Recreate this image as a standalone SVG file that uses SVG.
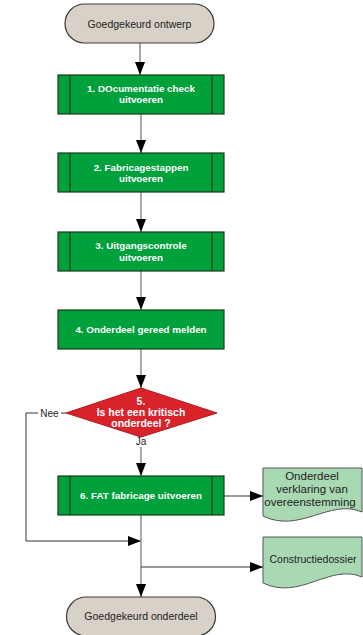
<svg xmlns="http://www.w3.org/2000/svg" width="363" height="635" viewBox="0 0 363 635">
<defs>
<marker id="ah" markerUnits="userSpaceOnUse" markerWidth="14" markerHeight="10" refX="13" refY="5" orient="auto">
<path d="M0,0 L13,5 L0,10 Z" fill="#000"/>
</marker>
<style>
.term{fill:#d8d1c7;stroke:#3a3a3a;stroke-width:1.2}
.proc{fill:#00a13a;stroke:#1b3b1b;stroke-width:1.2}
.inner{stroke:#1b3b1b;stroke-width:1.2}
.dec{fill:#d8232a;stroke:#b01a20;stroke-width:1}
.doc{fill:#a9d9b3;stroke:#555;stroke-width:1}
.tt{font-family:"Liberation Sans",Arial,sans-serif;font-size:10.5px;fill:#222;text-anchor:middle}
.wt{font-family:"Liberation Sans",Arial,sans-serif;font-size:9.8px;font-weight:bold;fill:#fff;text-anchor:middle}
.dt{font-family:"Liberation Sans",Arial,sans-serif;font-size:11.5px;fill:#222;text-anchor:middle}
.lb{font-family:"Liberation Sans",Arial,sans-serif;font-size:10px;fill:#222;text-anchor:middle}
.c{fill:none;stroke:#8c8c8c;stroke-width:1.5}
.c2{fill:none;stroke:#333;stroke-width:1}
</style>
</defs>
<rect width="363" height="635" fill="#fff"/>
<g id="connectors">
<path class="c" d="M140,43 V75" marker-end="url(#ah)"/>
<path class="c" d="M141,114 V153" marker-end="url(#ah)"/>
<path class="c" d="M141,192 V232" marker-end="url(#ah)"/>
<path class="c" d="M141,271 V310" marker-end="url(#ah)"/>
<path class="c" d="M141,349 V388" marker-end="url(#ah)"/>
<path class="c" d="M141,437 V476" marker-end="url(#ah)"/>
<path class="c2" d="M66,413 H26 V541 H141" marker-end="url(#ah)"/>
<path class="c" d="M141,515 V597" marker-end="url(#ah)"/>
<path class="c2" d="M224,496 H263" marker-end="url(#ah)"/>
<path class="c2" d="M141,567 H263" marker-end="url(#ah)"/>
<rect x="38" y="407" width="23" height="12" fill="#fff"/>
<text class="lb" x="49.5" y="416.5">Nee</text>
<rect x="134" y="436" width="14" height="11" fill="#fff"/>
<text class="lb" x="141" y="445">Ja</text>
</g>
<g id="start">
<rect class="term" x="65" y="4" width="149" height="39" rx="19.5"/>
<text class="tt" x="139.5" y="27.5">Goedgekeurd ontwerp</text>
</g>
<g id="step1">
<rect class="proc" x="58" y="75" width="166" height="39"/>
<path class="inner" d="M70,75 V114 M212,75 V114"/>
<text class="wt" x="141" y="91.5">1. DOcumentatie check</text>
<text class="wt" x="141" y="102.5">uitvoeren</text>
</g>
<g id="step2">
<rect class="proc" x="58" y="153" width="166" height="39"/>
<path class="inner" d="M70,153 V192 M212,153 V192"/>
<text class="wt" x="141" y="170.5">2. Fabricagestappen</text>
<text class="wt" x="141" y="181.5">uitvoeren</text>
</g>
<g id="step3">
<rect class="proc" x="58" y="232" width="166" height="39"/>
<path class="inner" d="M70,232 V271 M212,232 V271"/>
<text class="wt" x="141" y="249">3. Uitgangscontrole</text>
<text class="wt" x="141" y="260.5">uitvoeren</text>
</g>
<g id="step4">
<rect class="proc" x="58" y="310" width="166" height="39"/>
<text class="wt" x="141" y="333">4. Onderdeel gereed melden</text>
</g>
<g id="step5">
<polygon class="dec" points="141,388 217,413 141,437 66,413"/>
<text class="wt" x="141" y="404.5" style="font-size:10.5px">5.</text>
<text class="wt" x="141" y="416" style="font-size:10.5px">Is het een kritisch</text>
<text class="wt" x="141" y="427" style="font-size:10.5px">onderdeel ?</text>
</g>
<g id="step6">
<rect class="proc" x="58" y="476" width="166" height="39"/>
<path class="inner" d="M70,476 V515 M212,476 V515"/>
<text class="wt" x="141" y="499">6. FAT fabricage uitvoeren</text>
</g>
<g id="doc1">
<path class="doc" d="M263,468 H362 V512 C330,498 300,534 263,516 Z"/>
<text class="dt" x="312" y="480">Onderdeel</text>
<text class="dt" x="312" y="493">verklaring van</text>
<text class="dt" x="310" y="506">overeenstemming</text>
</g>
<g id="doc2">
<path class="doc" d="M263,537 H362 V577 C330,563 300,601 263,583 Z"/>
<text class="dt" x="313" y="563" style="font-size:10.5px">Constructiedossier</text>
</g>
<g id="end">
<rect class="term" x="66.5" y="597" width="149" height="39" rx="19.5"/>
<text class="tt" x="141" y="620">Goedgekeurd onderdeel</text>
</g>
</svg>
